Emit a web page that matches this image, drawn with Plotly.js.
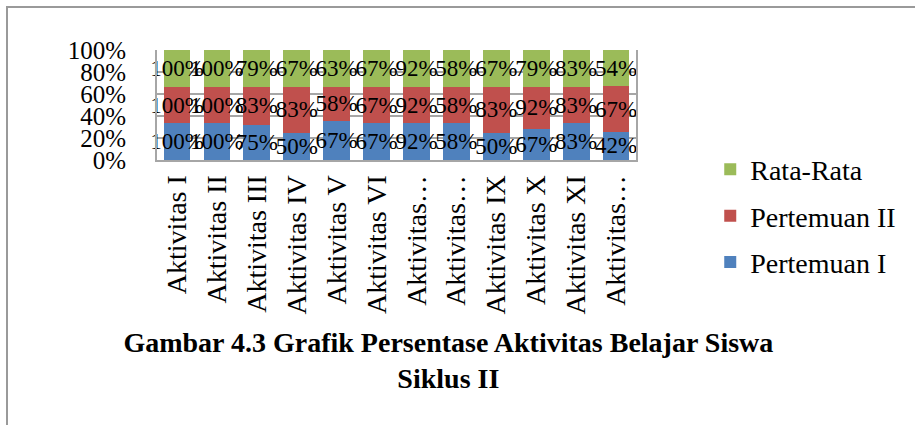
<!DOCTYPE html>
<html>
<head>
<meta charset="utf-8">
<script src="https://cdn.plot.ly/plotly-3.0.1.min.js"></script>
<style>
html,body{margin:0;padding:0;background:#fff;}
#wrap{position:relative;width:915px;height:425px;overflow:hidden;}
#frame{position:absolute;left:6px;top:6px;width:930px;height:440px;border-left:2px solid #9a9a9a;border-top:2px solid #9a9a9a;box-sizing:border-box;pointer-events:none;z-index:5;}
#chart{position:absolute;left:0;top:0;width:915px;height:425px;}
</style>
</head>
<body>
<div id="wrap"><div id="chart"></div><div id="frame"></div></div>
<script>
const categories = ["Aktivitas I","Aktivitas II","Aktivitas III","Aktivitas IV","Aktivitas V","Aktivitas VI","Aktivitas VII","Aktivitas VIII","Aktivitas IX","Aktivitas X","Aktivitas XI","Aktivitas XII"];
const tickLabels = ["Aktivitas I","Aktivitas II","Aktivitas III","Aktivitas IV","Aktivitas V","Aktivitas VI","Aktivitas…","Aktivitas…","Aktivitas IX","Aktivitas X","Aktivitas XI","Aktivitas…"];
const pertemuan1 = [100,100,75,50,67,67,92,58,50,67,83,42];
const pertemuan2 = [100,100,83,83,58,67,92,58,83,92,83,67];
const rataRata   = [100,100,79,67,63,67,92,58,67,79,83,54];
const yTicks = [0,20,40,60,80,100];
const yTickLabels = ["0%","20%","40%","60%","80%","100%"];

const serif = "Liberation Serif, Times New Roman, serif";
function mk(name, vals, color, grp, rank){
  return {
    type:'bar', name:name, x:categories, y:vals, legendgroup:grp, legendrank:rank,
    marker:{color:color},
    text: vals.map(v=>v+'%'), textposition:'inside', insidetextanchor:'middle',
    textangle:0, constraintext:'none', cliponaxis:false,
    textfont:{family:serif,size:23,color:'#000'},
    hoverinfo:'skip'
  };
}
const data = [
  mk('Pertemuan I', pertemuan1, '#4F81BD','a',3),
  mk('Pertemuan II', pertemuan2, '#C0504D','b',2),
  mk('Rata-Rata', rataRata, '#9BBB59','c',1)
];
const layout = {
  width:915, height:425,
  margin:{l:157,r:279,t:50,b:265},
  paper_bgcolor:'#fff', plot_bgcolor:'#fff',
  barmode:'stack', barnorm:'percent', bargap:0.33,
  showlegend:true,
  legend:{traceorder:'grouped', x:1.155, xanchor:'left', y:0.14, yanchor:'top',
    font:{family:serif,size:28,color:'#000'}, tracegroupgap:7, itemwidth:30, maxheight:300},
  xaxis:{type:'category', tickvals:categories, ticktext:tickLabels, tickangle:-90,
    tickfont:{family:serif,size:28,color:'#000'}, showgrid:false, ticks:'',
    showline:true, linecolor:'#a6a6a6', linewidth:2, mirror:false, fixedrange:true, ticklabelstandoff:2},
  yaxis:{range:[0,100], tickvals:yTicks, ticktext:yTickLabels,
    tickfont:{family:serif,size:25,color:'#000'}, showgrid:true, gridcolor:'#a6a6a6', gridwidth:1.5,
    showline:true, linecolor:'#a6a6a6', linewidth:2, mirror:true, ticks:'', zeroline:false,
    ticklabelstandoff:24, fixedrange:true},
  title:{text:'<b>Gambar 4.3 Grafik Persentase Aktivitas Belajar Siswa</b><br><b>Siklus II</b>',
    font:{family:serif,size:28,color:'#000'}, x:0.49, xanchor:'center', xref:'container',
    y:1-352/425, yanchor:'top', yref:'container'}
};
Plotly.newPlot('chart', data, layout, {staticPlot:true, displayModeBar:false});
</script>
</body>
</html>
